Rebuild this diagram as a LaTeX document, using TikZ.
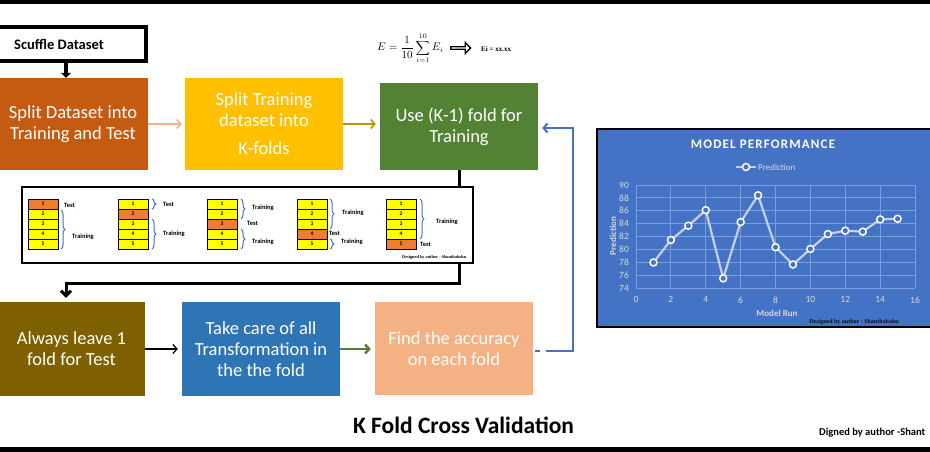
\documentclass[tikz,border=0pt]{standalone}
\usepackage{fontspec}
\setmainfont{Carlito}
\newfontfamily\serifsmall{Liberation Serif}
\usetikzlibrary{arrows.meta,decorations.pathreplacing,shapes.arrows,calc}
\definecolor{orangeD}{HTML}{C55A11}
\definecolor{goldbox}{HTML}{FFC000}
\definecolor{greenD}{HTML}{548235}
\definecolor{brownD}{HTML}{7F6000}
\definecolor{blueM}{HTML}{2E75B6}
\definecolor{peach}{HTML}{F4B183}
\definecolor{goldD}{HTML}{BF9000}
\definecolor{chartblue}{HTML}{4472C4}
\definecolor{foldyellow}{HTML}{FFFF00}
\definecolor{foldorange}{HTML}{ED7D31}
\definecolor{ticklight}{HTML}{D9D9D9}
\definecolor{lineg}{HTML}{C5CFE6}
\definecolor{gridc}{HTML}{7E9DD8}
\begin{document}
\begin{tikzpicture}[x=1pt,y=-1pt,
  box/.style={rectangle,inner sep=0,text=white,align=center,
    font=\fontsize{18.5}{21}\selectfont},
  conn/.style={line width=1.5pt,-{Straight Barb[length=4pt,width=9pt]}},
  cell/.style={draw=black,line width=0.8pt,minimum width=30,minimum height=10,inner sep=0,
    font=\bfseries\fontsize{5.5}{5.5}\selectfont},
  lbl/.style={anchor=west,inner sep=0,font=\bfseries\fontsize{6.5}{7}\selectfont},
  brc/.style={draw=chartblue,line width=1pt,decorate,decoration={brace,amplitude=4pt}},
  gridln/.style={draw=gridc,line width=0.8pt},
  tick/.style={text=ticklight,inner sep=0,font=\fontsize{9.5}{10}\selectfont},
  dotmark/.style={circle,draw=white,line width=1.5pt,fill=chartblue,minimum size=7,inner sep=0},
]
\useasboundingbox (0,0) rectangle (930,452);
\fill[black] (0,0) rectangle (930,4);
\fill[black] (0,447) rectangle (930,452);

% top row
\node[draw=black,line width=4pt,minimum width=152,minimum height=34,inner sep=0] (shuffle) at (70,44) {};
\node[anchor=west,inner sep=0,font=\bfseries\fontsize{14.5}{16}\selectfont] (shuffletext) at (14,44) {Scuffle Dataset};
\node[box,fill=orangeD,minimum width=150,minimum height=92] (split) at (73,124) {Split Dataset into\\Training and Test};
\node[box,fill=goldbox,minimum width=158,minimum height=92] (kfold) at (264,124) {Split Training\\dataset into\\[7pt]K-folds};
\node[box,fill=greenD,minimum width=158,minimum height=87] (use) at (459,126.5) {Use (K-1) fold for\\Training};

% formula
\node[anchor=west,inner sep=0,font=\fontsize{10.5}{12}\selectfont] (formula) at (377,48) {$\displaystyle E=\frac{1}{10}\sum_{i=1}^{10}E_i$};
\node[single arrow,draw=black,line width=1.4pt,fill=white,minimum height=20,minimum width=11,
  single arrow head extend=2.5pt,inner sep=0,anchor=west] (harrow) at (450,48) {};
\node[anchor=west,inner sep=0,font=\serifsmall\bfseries\fontsize{7}{8}\selectfont] (eival) at (481,49) {Ei = xx.xx};

% bottom row
\node[box,fill=brownD,minimum width=147,minimum height=94] (always) at (71.5,349) {Always leave 1\\fold for Test};
\node[box,fill=blueM,minimum width=158,minimum height=94] (take) at (261,349) {Take care of all\\Transformation in\\the the fold};
\node[box,fill=peach,minimum width=158,minimum height=93] (find) at (454,348.5) {Find the accuracy\\on each fold};

% connectors
\draw[line width=3.5pt,-{Triangle[length=5pt,width=10pt]}] ([xshift=-4]shuffle.south) -- ([xshift=-4]shuffle.south |- split.north);
\draw[conn,draw=peach] (split.east) -- ([xshift=-3]kfold.west);
\draw[conn,draw=goldD] (kfold.east) -- ([xshift=-4]kfold.east -| use.west);
\draw[line width=3pt,-{Straight Barb[length=5pt,width=10pt]},shorten >=4pt] (use.south) -- ++(0,113) -| ([xshift=-5.5]always.north);
\draw[conn,draw=black,line width=1.3pt] (always.east) -- ([xshift=-4]take.west);
\draw[conn,draw=greenD,line width=2.5pt] (take.east) -- ([xshift=-4]take.east -| find.west);
\draw[conn,draw=chartblue,line width=2pt,dash pattern=on 5pt off 6pt on 1000pt,shorten <=2pt,shorten >=4pt]
  ([yshift=-2.5]find.east) -- ++(40,0) |- ([yshift=-1.5]use.east);

% folds panel
\node[draw=black,line width=1.5pt,fill=white,minimum width=451,minimum height=76,inner sep=0] (panel) at (247.5,225) {};
\foreach \s/\X/\t in {1/28/1,2/118/2,3/207/3,4/297/4,5/386/5}{
  \foreach \j in {1,...,5}{
    \ifnum\j=\t\relax\def\cc{foldorange}\else\def\cc{foldyellow}\fi
    \node[cell,fill=\cc] (f\s c\j) at (\X+15,194+10*\j) {\j};
  }
}
% stack 1
\node[lbl] (t1a) at (64,205) {Test};
\draw[brc] (61,210) -- (61,249);
\node[lbl] (t1b) at (72,237) {Training};
% stack 2
\draw[brc] (152,199) -- (152,209);
\node[lbl] (t2a) at (163,204) {Test};
\draw[brc] (152,219) -- (152,249);
\node[lbl] (t2b) at (163,234) {Training};
% stack 3
\draw[brc] (241,199) -- (241,219);
\node[lbl] (t3a) at (252,208) {Training};
\node[lbl] (t3b) at (247,223) {Test};
\draw[brc] (241,229) -- (241,249);
\node[lbl] (t3c) at (252,242) {Training};
% stack 4
\draw[brc] (330,199) -- (330,229);
\node[lbl] (t4a) at (342,213) {Training};
\node[lbl] (t4b) at (329,233) {Test};
\draw[brc] (330,239) -- (330,249);
\node[lbl] (t4c) at (341,242) {Training};
% stack 5
\draw[brc] (420,199) -- (420,239);
\node[lbl] (t5a) at (436,222) {Training};
\node[lbl] (t5b) at (420,244) {Test};
\node[anchor=west,inner sep=0,font=\serifsmall\bfseries\fontsize{4.3}{5}\selectfont] (pnote) at (402,257) {Designed by author - Shanthababu};

% chart
\node[draw=black,line width=2.5pt,fill=chartblue,minimum width=336,minimum height=198,inner sep=0] (chart) at (765,228) {};
\node[text=white,inner sep=0,font=\bfseries\addfontfeature{LetterSpace=9}\fontsize{13}{15}\selectfont] (ctitle) at (763,144) {MODEL PERFORMANCE};
\draw[lineg,line width=2.2pt] (736,167) -- (756,167);
\node[dotmark] (legmark) at (746,167) {};
\node[anchor=west,inner sep=0,text=ticklight,font=\fontsize{9}{10}\selectfont] (legtext) at (758,167) {Prediction};
\node[rotate=90,inner sep=0,text=ticklight,font=\bfseries\fontsize{9}{10}\selectfont] (ytitle) at (613,236) {Prediction};
\node[inner sep=0,text=ticklight,font=\bfseries\fontsize{9}{10}\selectfont] (xtitle) at (777,313) {Model Run};
\node[inner sep=0,text=black!85!chartblue,font=\serifsmall\bfseries\fontsize{6}{7}\selectfont] (cnote) at (854,322) {Designed by author - Shanthababu};
\begin{scope}[xshift=636pt,yshift=-288pt,x=17.44pt,y=6.44pt]
  \foreach \v in {0,2,...,16} \draw[gridln] (\v,0) -- (\v,16);
  \foreach \v in {0,2,...,16} \draw[gridln] (0,\v) -- (16,\v);
  \foreach \v in {0,2,...,16} \node[tick,anchor=east] (yl\v) at (-0.4,\v) {\the\numexpr74+\v\relax};
  \foreach \v in {0,2,...,16} \node[tick] (xl\v) at (\v,-1.85) {\v};
  \draw[lineg,line width=2.2pt,line join=round] (1,3.96) -- (2,7.46) -- (3,9.67) -- (4,12.09) -- (5,1.5) -- (6,10.24) -- (7,14.4) -- (8,6.33) -- (9,3.65) -- (10,6.07) -- (11,8.38) -- (12,8.9) -- (13,8.75) -- (14,10.65) -- (15,10.75);
  \foreach \i/\v in {1/3.96,2/7.46,3/9.67,4/12.09,5/1.5,6/10.24,7/14.4,8/6.33,9/3.65,10/6.07,11/8.38,12/8.9,13/8.75,14/10.65,15/10.75}
    \node[dotmark] (m\i) at (\i,\v) {};
\end{scope}

% titles
\node[inner sep=0,font=\bfseries\fontsize{23.5}{28}\selectfont] (title) at (463.5,425) {K Fold Cross Validation};
\node[anchor=west,inner sep=0,font=\bfseries\fontsize{10.5}{12}\selectfont] (sign) at (819,433) {Digned by author -Shant};
\end{tikzpicture}
\end{document}
